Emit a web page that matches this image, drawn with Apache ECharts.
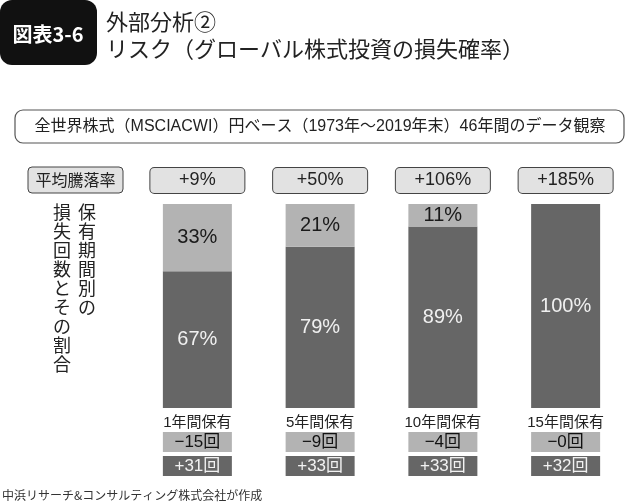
<!DOCTYPE html>
<html>
<head>
<meta charset="utf-8">
<script src="https://cdn.jsdelivr.net/npm/echarts@6/dist/echarts.min.js"></script>
<style>html,body{margin:0;padding:0;background:#fff;}#c{width:640px;height:504px;}</style>
</head>
<body>
<div id="c"></div>
<script>
// ---- data ----
const categories = ['1年間保有', '5年間保有', '10年間保有', '15年間保有'];
const gainPct = [67, 79, 89, 100];   // share of gains (dark, bottom)
const lossPct = [33, 21, 11, 0];     // share of losses (light, top)
const avgReturn = ['+9%', '+50%', '+106%', '+185%'];
const lossCount = [15, 9, 4, 0];
const gainCount = [31, 33, 33, 32];

const FONT = "'Liberation Sans', 'Noto Sans CJK JP', sans-serif";
const JP = "'Noto Sans CJK JP', sans-serif";
const DARK = '#666666';
const LIGHT = '#b3b3b3';

const chart = echarts.init(document.getElementById('c'), null, {renderer: 'canvas'});

const vcol = s => s.split('').join('\n');

const option = {
  animation: false,
  backgroundColor: '#ffffff',
  grid: {left: 136, right: 13, top: 204, bottom: 96, containLabel: false},
  xAxis: [
    {
      type: 'category', data: categories, position: 'bottom',
      axisLine: {show: false}, axisTick: {show: false},
      axisLabel: {
        interval: 0, margin: 6, fontFamily: FONT,
        formatter: (v, i) => '{cat|' + v + '}\n{neg|−' + lossCount[i] + '回}\n{pos|+' + gainCount[i] + '回}',
        rich: {
          cat: {fontSize: 15, color: '#222', lineHeight: 18, fontFamily: FONT},
          neg: {fontSize: 17, color: '#111', backgroundColor: LIGHT, width: 69, height: 20, lineHeight: 20, align: 'center', fontFamily: FONT},
          pos: {fontSize: 17, color: '#f2f2f2', backgroundColor: DARK, width: 69, height: 20, lineHeight: 28, align: 'center', fontFamily: FONT}
        }
      }
    },
    {
      type: 'category', data: categories, position: 'top',
      axisLine: {show: false}, axisTick: {show: false},
      axisLabel: {
        interval: 0, margin: 11, fontFamily: FONT,
        formatter: (v, i) => '{box|' + avgReturn[i] + '}',
        rich: {
          box: {fontSize: 18, color: '#222', backgroundColor: '#e2e2e2', borderColor: '#444', borderWidth: 1,
                borderRadius: 4, width: 94, height: 25, align: 'center', fontFamily: FONT}
        }
      }
    }
  ],
  yAxis: {type: 'value', min: 0, max: 100, show: false},
  series: [
    {
      name: 'gain', type: 'bar', stack: 'a', barWidth: 69, xAxisIndex: 0,
      data: gainPct,
      itemStyle: {color: DARK},
      label: {show: true, position: 'inside', formatter: p => p.value + '%', color: '#f0f0f0', fontSize: 20, fontFamily: FONT}
    },
    {
      name: 'loss', type: 'bar', stack: 'a', barWidth: 69, xAxisIndex: 0,
      data: lossPct,
      itemStyle: {color: LIGHT},
      label: {show: true, position: 'inside', formatter: p => p.value > 0 ? p.value + '%' : '', color: '#1a1a1a', fontSize: 20, fontFamily: FONT}
    }
  ],
  graphic: [
    {type: 'rect', shape: {x: 0, y: 0, width: 97, height: 65, r: 12}, style: {fill: '#111'}},
    {type: 'text', x: 48, y: 34, style: {text: '図表3-6', fill: '#fff', font: 'bold 20px ' + JP, align: 'center', verticalAlign: 'middle'}},
    {type: 'text', x: 106, y: 22, style: {text: '外部分析②', fill: '#222', font: '22px ' + JP, verticalAlign: 'middle'}},
    {type: 'text', x: 106, y: 49, style: {text: 'リスク（グローバル株式投資の損失確率）', fill: '#222', font: '22px ' + JP, verticalAlign: 'middle'}},
    {type: 'rect', shape: {x: 15, y: 110, width: 609, height: 33, r: 8}, style: {fill: '#fff', stroke: '#555', lineWidth: 1.2}},
    {type: 'text', x: 320, y: 127, style: {text: '全世界株式（MSCIACWI）円ベース（1973年～2019年末）46年間のデータ観察', fill: '#222', font: '16px ' + FONT, align: 'center', verticalAlign: 'middle'}},
    {type: 'rect', shape: {x: 28, y: 167, width: 95, height: 26, r: 4}, style: {fill: '#e2e2e2', stroke: '#444', lineWidth: 1}},
    {type: 'text', x: 75.5, y: 180, style: {text: '平均騰落率', fill: '#222', font: '16px ' + JP, align: 'center', verticalAlign: 'middle'}},
    {type: 'text', x: 87, y: 203, style: {text: vcol('保有期間別の'), fill: '#222', font: '18px ' + JP, align: 'center', verticalAlign: 'top', lineHeight: 19}},
    {type: 'text', x: 62, y: 203, style: {text: vcol('損失回数とその割合'), fill: '#222', font: '18px ' + JP, align: 'center', verticalAlign: 'top', lineHeight: 19}},
    {type: 'text', x: 2, y: 495, style: {text: '中浜リサーチ&コンサルティング株式会社が作成', fill: '#333', font: '12px ' + JP, verticalAlign: 'middle'}}
  ]
};
chart.setOption(option);
</script>
</body>
</html>
